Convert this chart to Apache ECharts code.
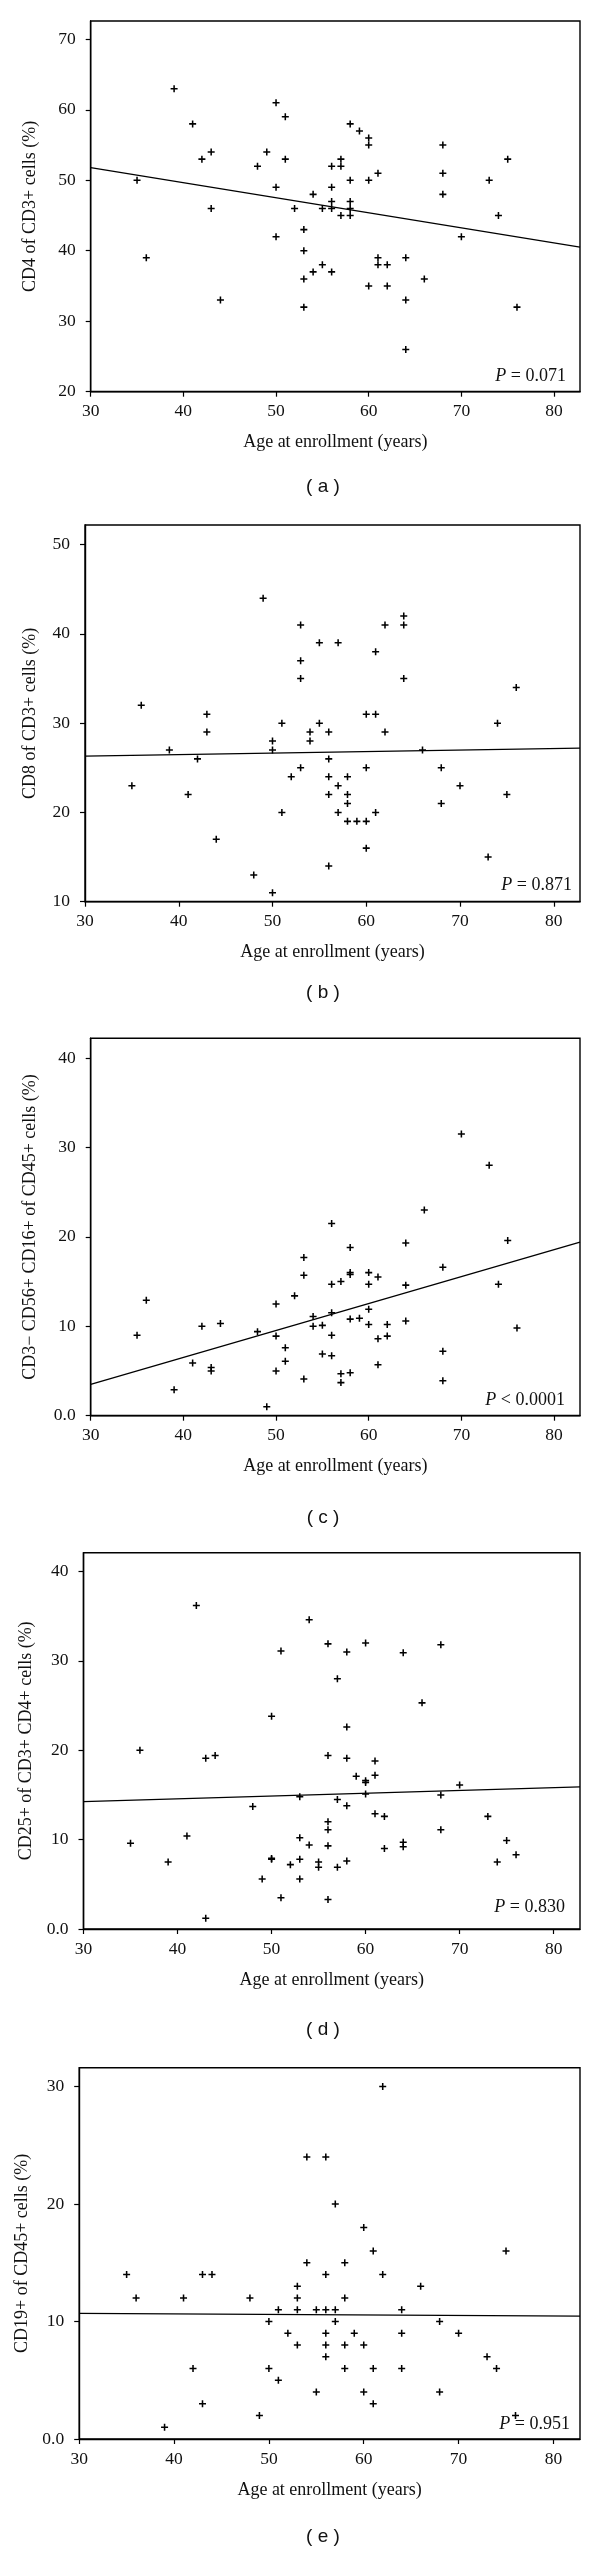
<!DOCTYPE html>
<html><head><meta charset="utf-8">
<script src="https://cdn.jsdelivr.net/npm/echarts@6/dist/echarts.min.js"></script>
<style>html,body{margin:0;padding:0;background:#fff}#c{width:600px;height:2565px}</style>
</head><body><div id="c"></div>
<script>
// ---------- shared ----------
const xTicks = [30, 40, 50, 60, 70, 80];
const xRange = [30, 82.8];
const trendX = [30, 82.8];
const xTitle = 'Age at enrollment (years)';

// ---------- (a) CD4 of CD3+ ----------
const ageA = [35,36,39,41,42,43,43,44,48,49,50,50,50,51,51,52,53,53,53,53,54,54,55,55,56,56,56,56,56,57,57,57,58,58,58,58,58,59,60,60,60,60,61,61,61,62,62,64,64,64,66,68,68,68,70,73,74,75,76];
const cd4  = [50,39,63,58,53,54,46,33,52,54,61,49,42,59,53,46,43,40,36,32,48,37,46,38,52,49,47,46,37,53,52,45,58,50,47,46,45,57,56,55,50,35,51,39,38,38,35,39,33,26,36,55,51,48,42,50,45,53,32];
const trendA = [51.8, 40.5];
const yTicksA = [20, 30, 40, 50, 60, 70];
const yLabelsA = ['20', '30', '40', '50', '60', '70'];

// ---------- (b) CD8 of CD3+ ----------
const ageB = [35,36,39,41,42,43,43,44,48,49,50,50,50,51,51,52,53,53,53,53,54,54,55,55,56,56,56,56,56,57,57,57,58,58,58,58,59,60,60,60,60,61,61,61,62,62,64,64,64,66,68,68,70,73,74,75,76];
const cd8  = [23,32,27,22,26,31,29,17,13,44,28,27,11,30,20,24,41,37,35,25,29,28,39,30,29,26,24,22,14,39,23,20,24,22,21,19,19,31,25,19,16,38,31,20,41,29,42,41,35,27,25,21,23,15,30,22,34];
const trendB = [26.3, 27.2];
const yTicksB = [10, 20, 30, 40, 50];
const yLabelsB = ['10', '20', '30', '40', '50'];

// ---------- (c) NK cells ----------
const ageC = [35,36,39,41,42,43,43,44,48,49,50,50,50,51,51,52,53,53,53,54,54,55,55,56,56,56,56,56,57,57,57,58,58,58,58,58,59,60,60,60,60,61,61,61,62,62,64,64,64,66,68,68,68,70,73,74,75,76];
const nk   = [9.0,12.9,2.9,5.9,10.0,5.4,5.0,10.3,9.4,1.0,12.5,8.9,5.0,7.6,6.1,13.4,17.7,15.7,4.1,11.1,10.0,10.1,6.9,21.5,14.7,11.5,9.0,6.7,15.0,4.7,3.7,18.8,16.0,15.8,10.8,4.8,10.9,16.0,14.7,11.9,10.2,15.5,8.6,5.7,10.2,8.9,19.3,14.6,10.6,23.0,16.6,7.2,3.9,31.5,28.0,14.7,19.6,9.8];
const trendC = [3.5, 19.4];
const yTicksC = [0, 10, 20, 30, 40];
const yLabelsC = ['0.0', '10', '20', '30', '40'];

// ---------- (d) CD25+ of CD3+CD4+ ----------
const ageD = [35,36,39,41,42,43,43,44,48,49,50,50,50,51,51,52,53,53,53,53,54,54,55,55,56,56,56,56,56,56,57,57,57,58,58,58,58,58,59,60,60,60,60,61,61,61,62,62,64,64,64,66,68,68,68,70,73,74,75,76];
const cd25 = [9.6,20.0,7.5,10.4,36.2,19.1,1.2,19.4,13.7,5.6,23.8,7.9,7.8,31.1,3.5,7.2,14.8,10.2,7.8,5.6,34.6,9.4,7.5,6.9,31.9,19.4,12.0,11.1,9.3,3.3,28.0,14.5,6.9,31.0,22.6,19.1,13.8,7.6,17.1,32.0,16.6,16.4,15.1,18.8,17.2,12.9,12.6,9.0,30.9,9.7,9.2,25.3,31.8,15.0,11.1,16.1,12.6,7.5,9.9,8.3];
const trendD = [14.25, 15.9];
const yTicksD = [0, 10, 20, 30, 40];
const yLabelsD = ['0.0', '10', '20', '30', '40'];

// ---------- (e) CD19+ of CD45+ ----------
const ageE = [35,36,39,41,42,43,43,44,48,49,50,50,51,51,52,53,53,53,53,54,54,55,55,56,56,56,56,56,56,57,57,57,58,58,58,58,59,60,60,60,61,61,61,62,62,64,64,64,66,68,68,70,73,74,75,76];
const cd19 = [14,12,1,12,6,14,3,14,12,2,10,6,11,5,9,13,12,11,8,24,15,11,4,24,14,11,9,8,7,20,11,10,15,12,8,6,9,18,8,4,16,6,3,30,14,11,9,6,13,10,4,9,7,6,16,2];
const trendE = [10.7, 10.45];
const yTicksE = [0, 10, 20, 30];
const yLabelsE = ['0.0', '10', '20', '30'];

const panels = [
  {ages: ageA, vals: cd4,  trend: trendA, ticks: yTicksA, labels: yLabelsA, min: 20, max: 72.6,
   yTitle: 'CD4 of CD3+ cells (%)', p: '{i|P} = 0.071', tag: '( a )'},
  {ages: ageB, vals: cd8,  trend: trendB, ticks: yTicksB, labels: yLabelsB, min: 10, max: 52.2,
   yTitle: 'CD8 of CD3+ cells (%)', p: '{i|P} = 0.871', tag: '( b )'},
  {ages: ageC, vals: nk,   trend: trendC, ticks: yTicksC, labels: yLabelsC, min: 0, max: 42.2,
   yTitle: 'CD3\u2212 CD56+ CD16+ of CD45+ cells (%)', p: '{i|P} < 0.0001', tag: '( c )'},
  {ages: ageD, vals: cd25, trend: trendD, ticks: yTicksD, labels: yLabelsD, min: 0, max: 42.1,
   yTitle: 'CD25+ of CD3+ CD4+ cells (%)', p: '{i|P} = 0.830', tag: '( d )'},
  {ages: ageE, vals: cd19, trend: trendE, ticks: yTicksE, labels: yLabelsE, min: 0, max: 31.6,
   yTitle: 'CD19+ of CD45+ cells (%)', p: '{i|P} = 0.951', tag: '( e )'}
];

// layout (pixels)
const layout = [
  {left: 90.7, top: 21,     height: 370.7, pRight: 566,   pY: 376,    tagY: 486.7},
  {left: 85,   top: 525,    height: 376.7, pRight: 572,   pY: 885.7,  tagY: 993},
  {left: 90.7, top: 1038.3, height: 377.4, pRight: 565,   pY: 1400,   tagY: 1518},
  {left: 83.5, top: 1552.7, height: 376.3, pRight: 565,   pY: 1907.7, tagY: 2030},
  {left: 79.2, top: 2067.7, height: 371.3, pRight: 570,   pY: 2424,   tagY: 2537}
];

const SERIF = '"Liberation Serif", "DejaVu Serif", serif';
const SANS = '"Liberation Sans", Arial, sans-serif';
const plus = 'path://M3.9,0H6.1V3.9H10V6.1H6.1V10H3.9V6.1H0V3.9H3.9Z';

const grid = [], xAxis = [], yAxis = [], series = [], graphic = [];
panels.forEach((p, i) => {
  const L = layout[i];
  grid.push({left: L.left, right: 20, top: L.top, height: L.height,
    show: true, borderColor: '#000', borderWidth: 1.4, backgroundColor: 'transparent'});
  xAxis.push({type: 'value', gridIndex: i, min: xRange[0], max: xRange[1], interval: 10,
    name: xTitle, nameLocation: 'middle', nameGap: 42,
    nameTextStyle: {fontFamily: SERIF, fontSize: 18, color: '#111'},
    axisLine: {show: true, onZero: false, lineStyle: {color: '#000', width: 1.4}},
    axisTick: {show: true, inside: false, length: 5, customValues: xTicks, lineStyle: {color: '#000', width: 1.2}},
    axisLabel: {customValues: xTicks, margin: 11, fontFamily: SERIF, fontSize: 17.5, color: '#111'},
    splitLine: {show: false}});
  const lab = {};
  p.ticks.forEach((t, k) => { lab[t] = p.labels[k]; });
  yAxis.push({type: 'value', gridIndex: i, min: p.min, max: p.max, interval: 10,
    name: p.yTitle, nameLocation: 'middle', nameGap: L.left - 39,
    nameTextStyle: {fontFamily: SERIF, fontSize: 18, color: '#111'},
    axisLine: {show: true, onZero: false, lineStyle: {color: '#000', width: 1.4}},
    axisTick: {show: true, inside: false, length: 5, customValues: p.ticks, lineStyle: {color: '#000', width: 1.2}},
    axisLabel: {customValues: p.ticks, margin: 15, fontFamily: SERIF, fontSize: 17.5, color: '#111',
      formatter: v => (lab[v] !== undefined ? lab[v] : '')},
    splitLine: {show: false}});
  series.push({type: 'scatter', xAxisIndex: i, yAxisIndex: i,
    data: p.ages.map((a, k) => [a, p.vals[k]]),
    symbol: plus, symbolSize: 7, itemStyle: {color: '#000', opacity: 1}, silent: true, z: 3});
  series.push({type: 'line', xAxisIndex: i, yAxisIndex: i,
    data: trendX.map((x, k) => [x, p.trend[k]]),
    symbol: 'none', lineStyle: {color: '#000', width: 1.3}, silent: true, z: 2});
  graphic.push({type: 'text', x: L.pRight, y: L.pY, z: 10,
    style: {text: p.p, align: 'right', verticalAlign: 'middle', fill: '#111',
      fontFamily: SERIF, fontSize: 18,
      rich: {i: {fontStyle: 'italic', fontFamily: SERIF, fontSize: 18, fill: '#111'}}}});
  graphic.push({type: 'text', x: 323, y: L.tagY, z: 10,
    style: {text: p.tag, align: 'center', verticalAlign: 'middle', fill: '#111',
      fontFamily: SANS, fontSize: 19}});
});

const chart = echarts.init(document.getElementById('c'), null, {renderer: 'canvas'});
chart.setOption({animation: false, backgroundColor: '#fff', grid, xAxis, yAxis, series, graphic});
</script>
</body></html>
